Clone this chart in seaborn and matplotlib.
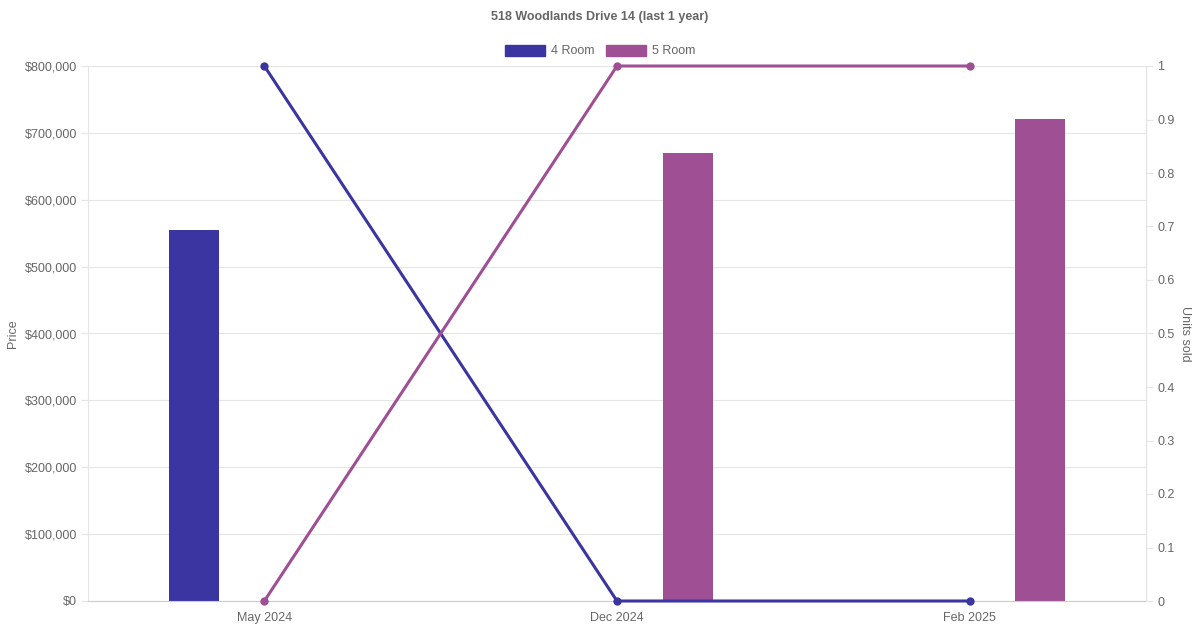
import numpy as np
import pandas as pd
import matplotlib
matplotlib.use("Agg")
import matplotlib.pyplot as plt
import seaborn as sns
from matplotlib.patches import Patch
from matplotlib.ticker import FuncFormatter, MultipleLocator

# ---- data ----
months = ["May 2024", "Dec 2024", "Feb 2025"]
series = ["4 Room", "5 Room"]
price_4room = [555000, np.nan, np.nan]
price_5room = [np.nan, 670000, 720000]
units_4room = [1, 0, 0]
units_5room = [0, 1, 1]
colors = ["#3A35A0", "#9F5094"]
title = "518 Woodlands Drive 14 (last 1 year)"

sns.set_theme(style="white")
plt.rcParams["font.family"] = ["Liberation Sans", "DejaVu Sans"]

price_df = pd.DataFrame({
    "month": months * 2,
    "type": [series[0]] * 3 + [series[1]] * 3,
    "price": price_4room + price_5room,
})
pos = np.arange(len(months))
units_df = pd.DataFrame({
    "x": list(pos) * 2,
    "type": [series[0]] * 3 + [series[1]] * 3,
    "units": units_4room + units_5room,
})

fig = plt.figure(figsize=(12, 6.3), dpi=100)
ax = fig.add_axes([88 / 1200, 1 - 601 / 630, (1146 - 88) / 1200, (601 - 66) / 630])

sns.barplot(data=price_df, x="month", y="price", hue="type", order=months,
            hue_order=series, palette=colors, width=0.8, dodge=True,
            saturation=1, ax=ax, legend=False, errorbar=None)

# narrow bars (Chart.js max bar thickness ~50px)
cat_px = (1146 - 88) / len(months)
bw = 50 / cat_px
for p in ax.patches:
    if np.isnan(p.get_height()) or p.get_height() == 0:
        continue
    c = p.get_x() + p.get_width() / 2
    p.set_x(c - bw / 2)
    p.set_width(bw)
    p.set_edgecolor("none")

ax.set_xlim(-0.5, len(months) - 0.5)
ax.set_ylim(0, 800000)
ax.yaxis.set_major_locator(MultipleLocator(100000))
ax.yaxis.set_major_formatter(FuncFormatter(lambda v, _: f"${v:,.0f}"))
ax.grid(axis="y", color="#e5e5e5", linewidth=0.8)
ax.set_axisbelow(True)
ax.set_xlabel("")
ax.set_ylabel("Price", color="#666666", fontsize=9, labelpad=4)
ax.tick_params(axis="y", which="major", length=5, width=0.8, color="#e5e5e5",
               labelcolor="#666666", labelsize=9, pad=3, left=True)
ax.tick_params(axis="x", length=0, labelcolor="#666666", labelsize=9, pad=8)
ax.spines["top"].set_visible(False)
ax.spines["left"].set_color("#e5e5e5")
ax.spines["right"].set_color("#e5e5e5")
ax.spines["bottom"].set_color("#cccccc")
for s in ax.spines.values():
    s.set_linewidth(0.8)

ax2 = ax.twinx()
sns.lineplot(data=units_df, x="x", y="units", hue="type", hue_order=series,
             palette=colors, marker="o", markersize=6, markeredgewidth=0,
             linewidth=2.2, ax=ax2, legend=False, sort=False)
ax2.set_xlim(-0.5, len(months) - 0.5)
ax2.set_ylim(0, 1)
ax2.yaxis.set_major_locator(MultipleLocator(0.1))
ax2.yaxis.set_major_formatter(FuncFormatter(lambda v, _: f"{v:.1f}".rstrip("0").rstrip(".") if v != 0 else "0"))
ax2.set_ylabel("Units sold", color="#666666", fontsize=9, rotation=270, labelpad=12)
ax2.tick_params(axis="y", length=5, width=0.8, color="#e5e5e5",
                labelcolor="#666666", labelsize=9, pad=3)
ax2.grid(False)
for s in ["top", "left", "bottom"]:
    ax2.spines[s].set_visible(False)
ax2.spines["right"].set_color("#e5e5e5")
ax2.spines["right"].set_linewidth(0.8)
for ln in ax2.lines:
    ln.set_clip_on(False)

ax.set_xticks(pos)
ax.set_xticklabels(months)

fig.text(0.5, 1 - 17 / 630, title, ha="center", va="center", fontsize=9,
         fontweight="bold", color="#666666")
handles = [Patch(facecolor=c, edgecolor=c, label=l) for c, l in zip(colors, series)]
fig.legend(handles=handles, loc="center", bbox_to_anchor=(0.5, 1 - 51 / 630),
           ncol=2, frameon=False, fontsize=9, labelcolor="#666666",
           handlelength=3.2, handleheight=1.0, handletextpad=0.5,
           columnspacing=0.9)

fig.savefig("out.png", dpi=100)
